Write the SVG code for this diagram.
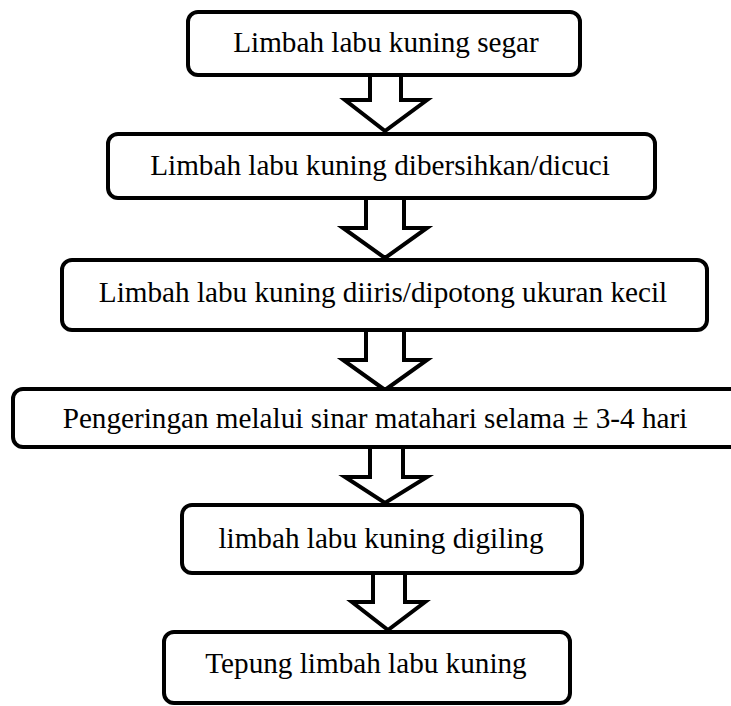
<svg xmlns="http://www.w3.org/2000/svg" width="731" height="706" viewBox="0 0 731 706">
<style>
.box{fill:#fff;stroke:#000;stroke-width:4}
.arr{fill:#fff;stroke:#000;stroke-width:4;stroke-linejoin:miter}
.t{font-family:"Liberation Serif","Times New Roman",serif;font-size:29.2px;fill:#000;text-anchor:middle}
</style>
<rect width="731" height="706" fill="#fff"/>
<g id="connectors">
<path class="arr" d="M370,75 V100 H345 L385,131 L427,100 H401 V75"/>
<path class="arr" d="M366,198 V228 H343 L385,258 L427,228 H404 V198"/>
<path class="arr" d="M366,330 V360 H343 L385,390 L427,360 H404 V330"/>
<path class="arr" d="M370,447 V477 H345 L385,503 L427,477 H403 V447"/>
<path class="arr" d="M373,573 V602 H352 L388,630 L425,602 H405 V573"/>
</g>
<g id="n1"><rect class="box" x="188" y="12" width="392" height="63" rx="10"/><text class="t" x="386" y="52">Limbah labu kuning segar</text></g>
<g id="n2"><rect class="box" x="108" y="134" width="547" height="64" rx="10"/><text class="t" x="380" y="175">Limbah labu kuning dibersihkan/dicuci</text></g>
<g id="n3"><rect class="box" x="62" y="260" width="645" height="70" rx="10"/><text class="t" x="383" y="302">Limbah labu kuning diiris/dipotong ukuran kecil</text></g>
<g id="n4"><rect class="box" x="13" y="389" width="730" height="58" rx="10"/><text class="t" x="375" y="428">Pengeringan melalui sinar matahari selama ± 3-4 hari</text></g>
<g id="n5"><rect class="box" x="182" y="505" width="400" height="68" rx="10"/><text class="t" x="381" y="548">limbah labu kuning digiling</text></g>
<g id="n6"><rect class="box" x="164" y="632" width="406" height="71" rx="10"/><text class="t" x="366" y="673">Tepung limbah labu kuning</text></g>
</svg>
